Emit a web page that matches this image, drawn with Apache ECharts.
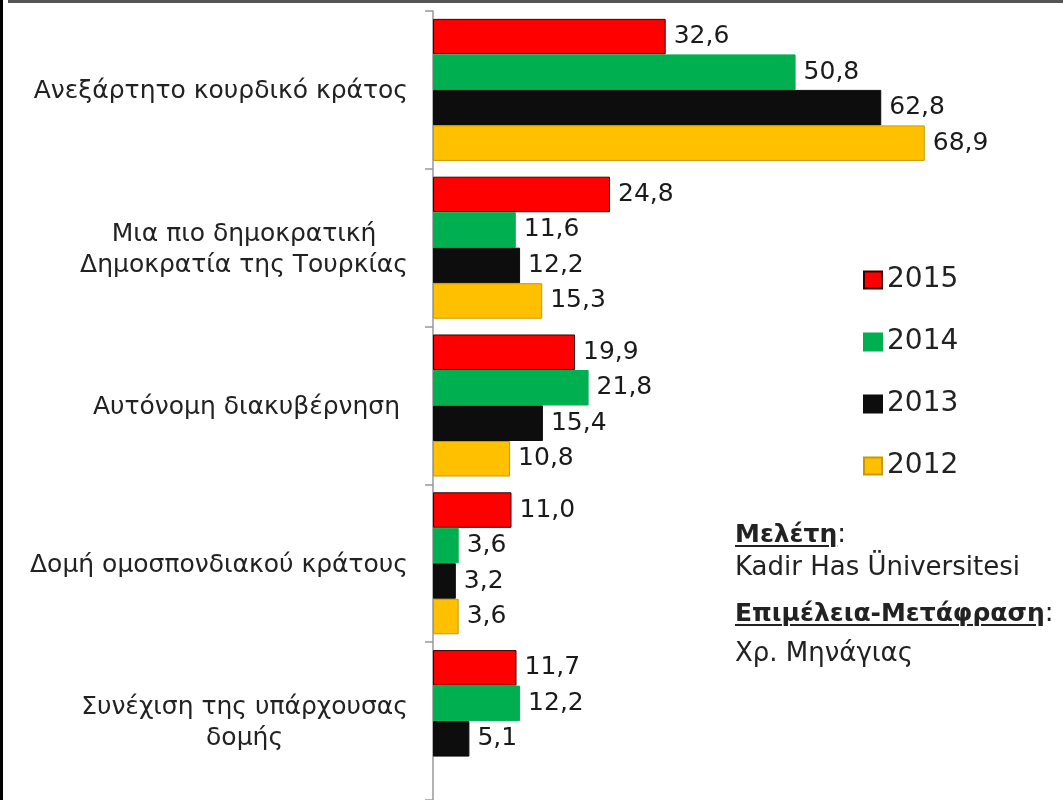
<!DOCTYPE html>
<html>
<head>
<meta charset="utf-8">
<script src="https://cdn.jsdelivr.net/npm/echarts@6/dist/echarts.min.js"></script>
<style>
html,body{margin:0;padding:0;background:#fff;}
#wrap{position:relative;width:1063px;height:800px;overflow:hidden;}
#chart_main{position:absolute;left:0;top:0;width:1063px;height:800px;}
.frame_l{position:absolute;left:0;top:0;width:3px;height:800px;background:#000;}
.frame_t{position:absolute;left:8px;top:0;width:1055px;height:3px;background:#555;}
.note{position:absolute;left:735px;font-family:"DejaVu Sans";font-size:26px;line-height:26px;color:#222;white-space:nowrap;}
.note u{font-size:25px;font-weight:bold;text-decoration-thickness:2px;text-underline-offset:3px;}
</style>
</head>
<body>
<div id="wrap">
	<div id="chart_main"></div>
	<div class="frame_l"></div>
	<div class="frame_t"></div>
	<div class="note" style="top:520px;"><u>Μελέτη</u>:</div>
	<div class="note" style="top:553px;">Kadir Has Üniversitesi</div>
	<div class="note" style="top:599px;"><u>Επιμέλεια-Μετάφραση</u>:</div>
	<div class="note" style="top:639px;">Χρ. Μηνάγιας</div>
</div>
<script type="text/javascript">
// κατηγορίες (από πάνω προς τα κάτω)
var categories = [
	'Ανεξάρτητο κουρδικό κράτος',
	'Μια πιο δημοκρατική\nΔημοκρατία της Τουρκίας',
	'Αυτόνομη διακυβέρνηση ',
	'Δομή ομοσπονδιακού κράτους',
	'Συνέχιση της υπάρχουσας\nδομής'
];
var years = ['2015', '2014', '2013', '2012'];
var v2015 = [32.6, 24.8, 19.9, 11.0, 11.7];
var v2014 = [50.8, 11.6, 21.8, 3.6, 12.2];
var v2013 = [62.8, 12.2, 15.4, 3.2, 5.1];
var v2012 = [68.9, 15.3, 10.8, 3.6, '-'];

var colors = ['#ff0000', '#00b050', '#0d0d0d', '#ffc000'];
var borders = ['#3a0000', '#00b050', '#0d0d0d', '#c99a00'];
var values = [v2015, v2014, v2013, v2012];

var font = 'DejaVu Sans';
var series = [];
for (var i = 0; i < years.length; i++) {
	series.push({
		name: years[i],
		type: 'bar',
		data: values[i],
		barGap: '0%',
		barCategoryGap: '10%',
		itemStyle: {color: colors[i], borderColor: borders[i], borderWidth: 1},
		label: {
			show: true,
			position: 'right',
			distance: 8,
			fontFamily: font,
			fontSize: 25,
			color: '#1a1a1a',
			formatter: function(p){ return p.value.toFixed(1).replace('.', ','); }
		}
	});
}

var myChart = echarts.init(document.getElementById('chart_main'));
myChart.setOption({
	animation: false,
	backgroundColor: '#fff',
	grid: {left: 433, right: 59, top: 11, bottom: -1, containLabel: false},
	legend: {
		data: years,
		orient: 'vertical',
		left: 858,
		top: 261,
		icon: 'rect',
		itemWidth: 18,
		itemHeight: 17,
		itemGap: 34,
		textStyle: {fontFamily: font, fontSize: 28, lineHeight: 28, color: '#222'}
	},
	xAxis: {type: 'value', min: 0, max: 80, show: false},
	yAxis: {
		type: 'category',
		data: categories,
		inverse: true,
		axisLine: {show: true, lineStyle: {color: '#999', width: 1.5}},
		axisTick: {show: true, length: 8, lineStyle: {color: '#999', width: 1.5}},
		axisLabel: {
			margin: 25,
			align: 'right',
			formatter: function(v){
				return v.split('\n').map(function(s){ return '{c|' + s + '}'; }).join('\n');
			},
			rich: {
				c: {align: 'center', fontFamily: font, fontSize: 25, lineHeight: 31, color: '#222', padding: [4, 0, 0, 0]}
			}
		}
	},
	series: series
});
</script>
</body>
</html>
